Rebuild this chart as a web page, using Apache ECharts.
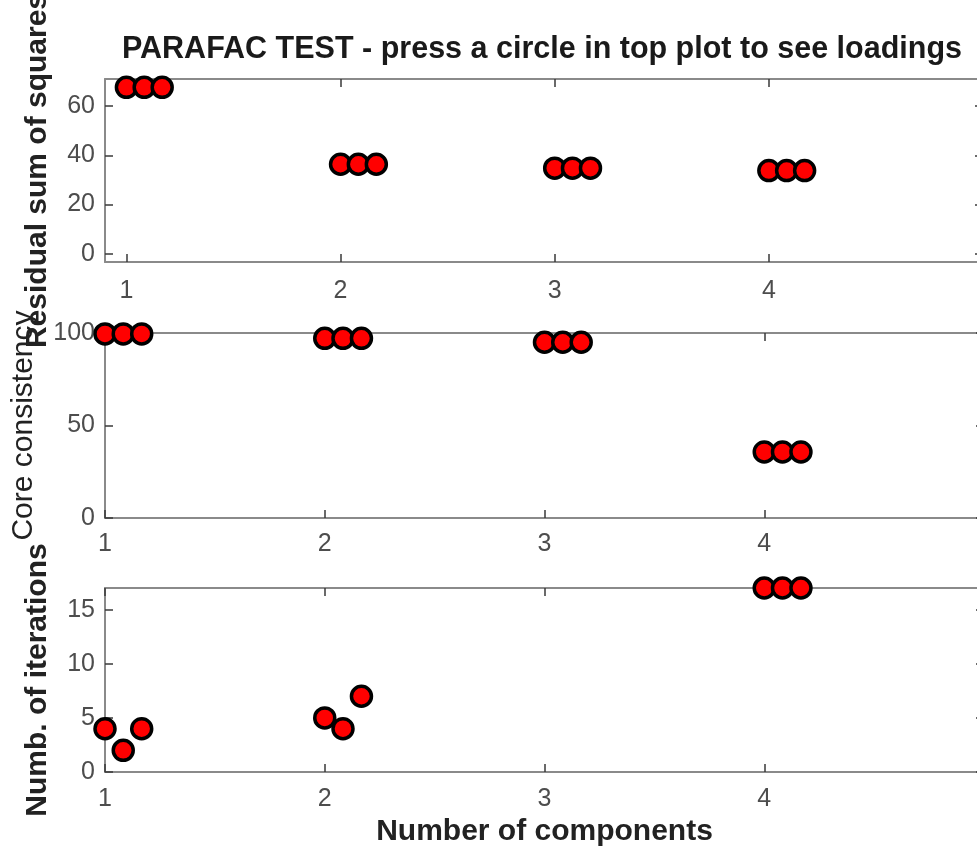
<!DOCTYPE html>
<html>
<head>
<meta charset="utf-8">
<script src="https://cdn.jsdelivr.net/npm/echarts@6/dist/echarts.min.js"></script>
<style>
  html, body { margin: 0; padding: 0; background: #fff; overflow: hidden; }
  #chart { width: 990px; height: 849px; }
</style>
</head>
<body>
<div id="chart"></div>
<script>
// PARAFAC model diagnostics: three fitted runs per number of components.
const runX = [1, 1.083, 1.167, 2, 2.083, 2.167, 3, 3.083, 3.167, 4, 4.083, 4.167];
const rssValues = [67.7, 67.7, 67.7, 36.4, 36.4, 36.4, 34.8, 34.8, 34.8, 33.8, 33.8, 33.8];
const coreValues = [99.5, 99.5, 99.5, 97.1, 97.1, 97.1, 95.0, 95.0, 95.0, 35.7, 35.7, 35.7];
const iterValues = [4, 2, 4, 5, 4, 7, null, null, null, 17, 17, 17];

const xTicks = [1, 2, 3, 4, 5];
const xTickLabels = [1, 2, 3, 4];
const rssTicks = [0, 20, 40, 60];
const coreTicks = [0, 50, 100];
const iterTicks = [0, 5, 10, 15];

const titleText = 'PARAFAC TEST - press a circle in top plot to see loadings';
const xName = 'Number of components';
const yNames = ['Residual sum of squares', 'Core consistency', 'Numb. of iterations'];

const FONT = '"Liberation Sans", Arial, Helvetica, sans-serif';
const LINE = '#8a8a8a';
const TICK = '#3a3a3a';
const LABEL = '#4d4d4d';
const TEXT = '#222';

const grids = [
  { left: 105, top: 79, width: 878, height: 183 },
  { left: 105, top: 333, width: 879, height: 185 },
  { left: 105, top: 588, width: 879, height: 184 }
];
const xRanges = [[0.9, 5], [1, 5], [1, 5]];
const yRanges = [[-3.385, 71.085], [0, 100], [0, 17]];
const yTickSets = [rssTicks, coreTicks, iterTicks];
const valueSets = [rssValues, coreValues, iterValues];
const xMargins = [17, 14, 15];
const yNameGaps = [52, 66, 52];
const yNameWeights = ['bold', 'normal', 'bold'];

const xAxes = [];
const yAxes = [];
const series = [];

grids.forEach((g, i) => {
  // bottom axis with labels, mirrored top axis with ticks only
  ['bottom', 'top'].forEach(pos => {
    const main = pos === 'bottom';
    xAxes.push({
      type: 'value', gridIndex: i, position: pos,
      min: xRanges[i][0], max: xRanges[i][1],
      splitLine: { show: false },
      axisLine: { show: true, onZero: false, lineStyle: { color: LINE, width: 2 } },
      axisTick: { show: true, inside: true, length: 8, customValues: xTicks, lineStyle: { color: TICK, width: 1.5 } },
      axisLabel: {
        show: main, customValues: xTickLabels, margin: xMargins[i],
        color: LABEL, fontFamily: FONT, fontSize: 25,
        formatter: v => String(v)
      },
      name: (main && i === 2) ? xName : '',
      nameLocation: 'middle', nameGap: 45,
      nameTextStyle: { fontFamily: FONT, fontSize: 30, fontWeight: 'bold', color: TEXT }
    });
  });
  // left axis with labels, mirrored right axis with ticks only
  ['left', 'right'].forEach(pos => {
    const main = pos === 'left';
    yAxes.push({
      type: 'value', gridIndex: i, position: pos,
      min: yRanges[i][0], max: yRanges[i][1],
      splitLine: { show: false },
      axisLine: { show: true, onZero: false, lineStyle: { color: LINE, width: 2 } },
      axisTick: { show: true, inside: true, length: 8, customValues: yTickSets[i], lineStyle: { color: TICK, width: 1.5 } },
      axisLabel: {
        show: main, customValues: yTickSets[i], margin: 10,
        color: LABEL, fontFamily: FONT, fontSize: 25,
        formatter: v => String(v)
      },
      name: main ? yNames[i] : '',
      nameLocation: 'middle', nameRotate: 90, nameGap: yNameGaps[i],
      nameTextStyle: { fontFamily: FONT, fontSize: 30, fontWeight: yNameWeights[i], color: TEXT }
    });
  });
  const data = [];
  runX.forEach((x, k) => {
    const v = valueSets[i][k];
    if (v !== null) data.push([x, v]);
  });
  series.push({
    type: 'scatter', xAxisIndex: i * 2, yAxisIndex: i * 2,
    data: data, clip: false,
    symbol: 'circle', symbolSize: 20,
    itemStyle: { color: '#ff0000', borderColor: '#000', borderWidth: 3.5, opacity: 1 },
    emphasis: { disabled: true },
    z: 5
  });
});

const chart = echarts.init(document.getElementById('chart'), null, { renderer: 'canvas' });
chart.setOption({
  animation: false,
  backgroundColor: '#ffffff',
  grid: grids.map(g => Object.assign({ containLabel: false, outerBoundsMode: 'none' }, g)),
  xAxis: xAxes,
  yAxis: yAxes,
  series: series,
  graphic: [{
    type: 'text', x: 542, y: 50, z: 10,
    style: {
      text: titleText, fill: '#1a1a1a',
      font: 'bold 30.5px ' + FONT,
      align: 'center', verticalAlign: 'middle'
    }
  }]
});
</script>
</body>
</html>
